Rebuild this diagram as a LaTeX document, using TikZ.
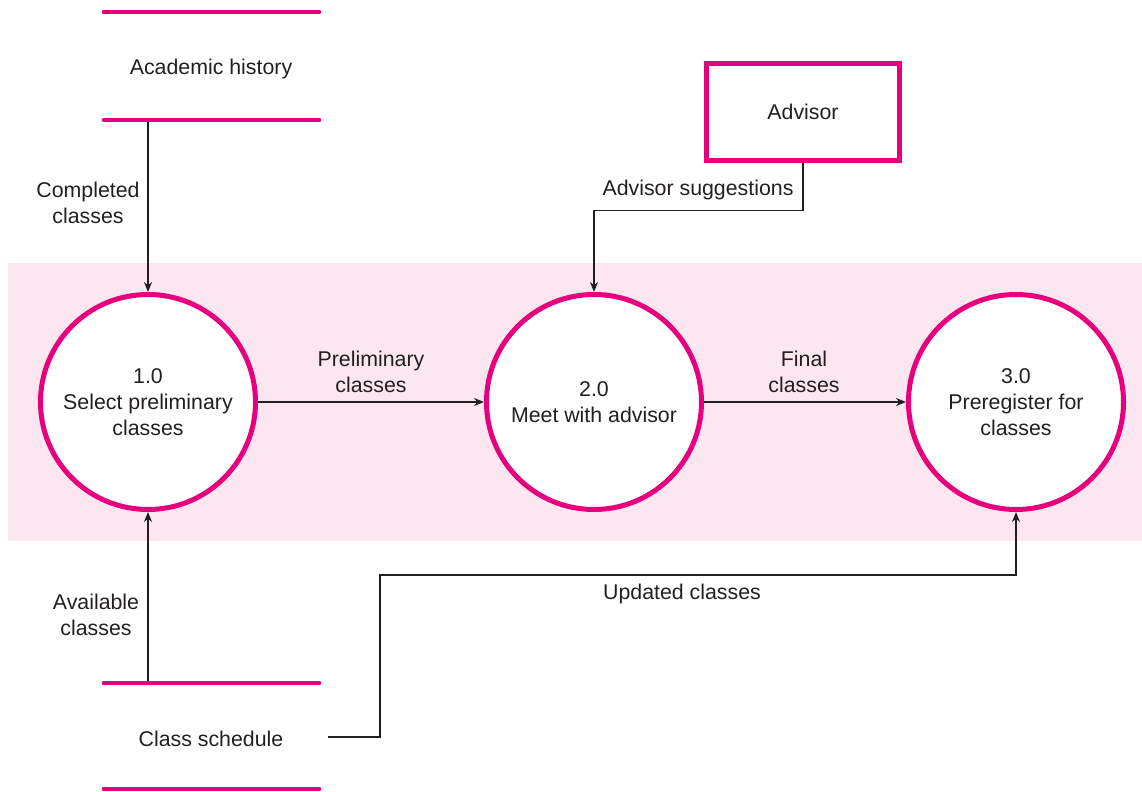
\documentclass[tikz,border=0pt]{standalone}
\usepackage{fontspec}
\setmainfont{Liberation Sans}
\usetikzlibrary{arrows.meta}
\definecolor{dfdmag}{RGB}{230,0,126}
\definecolor{dfdband}{RGB}{252,230,240}
\definecolor{dfdink}{RGB}{35,31,32}
\tikzset{
  dfdtext/.style={text=dfdink, font=\fontsize{16pt}{19.5pt}\selectfont, align=center, inner sep=0pt},
  process/.style={circle, draw=dfdmag, fill=white, line width=3.75pt, minimum size=161.25pt, inner sep=0pt, dfdtext},
  entity/.style={rectangle, draw=dfdmag, fill=white, line width=3.75pt, minimum width=144.75pt, minimum height=72pt, inner sep=0pt, dfdtext},
  storeline/.style={draw=dfdmag, line width=3.5pt, line cap=round},
  flow/.style={draw=dfdink, line width=1pt, -{Stealth[length=7.5pt, width=6pt]}},
}
\begin{document}
\begin{tikzpicture}[x=0.75pt, y=-0.75pt]
  \useasboundingbox (0,0) rectangle (1142,792);
  % shaded system boundary
  \fill[dfdband] (8,263) rectangle (1142,541);

  % processes
  \node[process] (c1) at (148,402) {1.0\\Select preliminary\\classes};
  \node[process] (c2) at (594,402) {2.0\\Meet with advisor};
  \node[process] (c3) at (1016,402) {3.0\\Preregister for\\classes};

  % external entity
  \node[entity] (adv) at (803,112) {Advisor};

  % data store: academic history
  \draw[storeline] (104,12) -- (319,12);
  \draw[storeline] (104,120) -- (319,120);
  \node[dfdtext] (acad) at (211,69) {Academic history};
  \coordinate (acadB) at (148,122);

  % data store: class schedule
  \draw[storeline] (104,683) -- (319,683);
  \draw[storeline] (104,789) -- (319,789);
  \node[dfdtext] (sched) at (211,739) {Class schedule};
  \coordinate (schedT) at (148,681);
  \coordinate (schedR) at (328,737);

  % flows
  \draw[flow] (acadB) -- (c1.north);
  \node[dfdtext] (lcomp) at (88,203) {Completed\\classes};

  \draw[flow] (schedT) -- (c1.south);
  \node[dfdtext] (lavail) at (96,615) {Available\\classes};

  \draw[flow] (c1.east) -- (c2.west);
  \node[dfdtext] (lprelim) at (371,372) {Preliminary\\classes};

  \draw[flow] (c2.east) -- (c3.west);
  \node[dfdtext] (lfinal) at (804,372) {Final\\classes};

  \draw[flow] (adv.south) -- ++(0,48) -| (c2.north);
  \node[dfdtext] (lsugg) at (698,190) {Advisor suggestions};

  \draw[flow] (schedR) -| (380,575) -| (c3.south);
  \node[dfdtext] (lupd) at (682,594) {Updated classes};
\end{tikzpicture}
\end{document}
